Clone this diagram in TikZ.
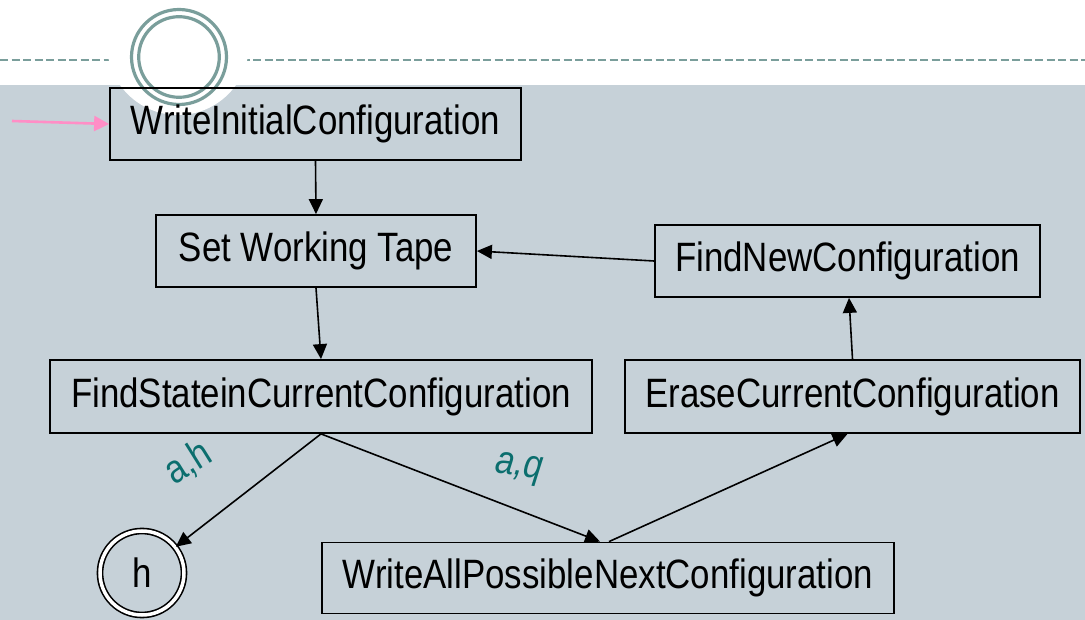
\documentclass[tikz,border=0pt]{standalone}
\usepackage{fontspec}
\setmainfont{Liberation Sans}
\newfontfamily\boxfont[FakeStretch=0.85]{Liberation Sans}
\usetikzlibrary{arrows.meta}
\definecolor{bandgrey}{HTML}{C6D1D8}
\definecolor{ringteal}{HTML}{7A9E9B}
\definecolor{labelteal}{HTML}{0B6E6E}
\definecolor{startpink}{HTML}{FF8EC6}

\begin{document}
\begin{tikzpicture}[x=1pt,y=-1pt,
  stepbox/.style={draw=black, line width=1.8pt, minimum height=72pt, inner sep=0pt,
    font=\boxfont\fontsize{41}{48}\selectfont},
  haltstate/.style={draw=black, circle, double, double distance=3.5pt, line width=1.6pt,
    minimum size=84pt, inner sep=0pt, font=\boxfont\fontsize{41}{48}\selectfont},
  flow/.style={draw=black, line width=1.6pt, -{Triangle[length=15pt,width=14pt]}},
  startflow/.style={draw=startpink, line width=2.6pt, -{Triangle[length=15pt,width=15pt]}},
  lbl/.style={text=labelteal, inner sep=0pt, font=\boxfont\fontsize{40}{44}\selectfont}
]
\useasboundingbox (0,0) rectangle (1085,620);
\clip (0,0) rectangle (1085,620);

% page background and title band
\fill[white] (0,0) rectangle (1085,620);
\fill[bandgrey] (0,85) rectangle (1085,620);
\draw[ringteal, line width=1.7pt, dash pattern=on 8pt off 3.5pt] (0,60) -- (1085,60);
\fill[white] (178,44) circle[radius=71];
\draw[ringteal, line width=3.2pt] (179,57) circle[radius=47.5];
\draw[ringteal, line width=3.2pt] (179,57) circle[radius=40.3];

% machine states
\node[stepbox, minimum width=411pt] (wic) at (315.5,124) {WriteInitialConfiguration};
\node[stepbox, minimum width=320pt] (swt) at (316,251) {Set Working Tape};
\node[stepbox, minimum width=385pt] (fnc) at (847.5,261) {FindNewConfiguration};
\node[stepbox, minimum width=542pt, minimum height=73pt] (fscc) at (321,396.5) {FindStateinCurrentConfiguration};
\node[stepbox, minimum width=455pt, minimum height=73pt] (ecc) at (852.5,396.5) {EraseCurrentConfiguration};
\node[stepbox, minimum width=572pt, minimum height=71pt] (wapnc) at (608,578) {WriteAllPossibleNextConfiguration};
\node[haltstate] (h) at (142,573) {h};

% transitions
\coordinate (entry) at (12,121);
\draw[startflow] (entry) -- (wic.west);
\draw[flow] (wic.south) -- (swt.north);
\draw[flow] (swt.south) -- (fscc.north);
\draw[flow] (fscc.south) -- (h);
\draw[flow] (fscc.south) -- ([xshift=-8pt]wapnc.north);
\draw[flow] ([xshift=1pt]wapnc.north) -- ([xshift=-5pt]ecc.south);
\draw[flow] (ecc.north) -- ([xshift=1.5pt]fnc.south);
\draw[flow] (fnc.west) -- (swt.east);

% transition labels
\node[lbl, rotate=32] (lah) at (188,463) {a,h};
\node[lbl, rotate=-8] (laq) at (519,469) {\itshape a,q};
\end{tikzpicture}
\end{document}
